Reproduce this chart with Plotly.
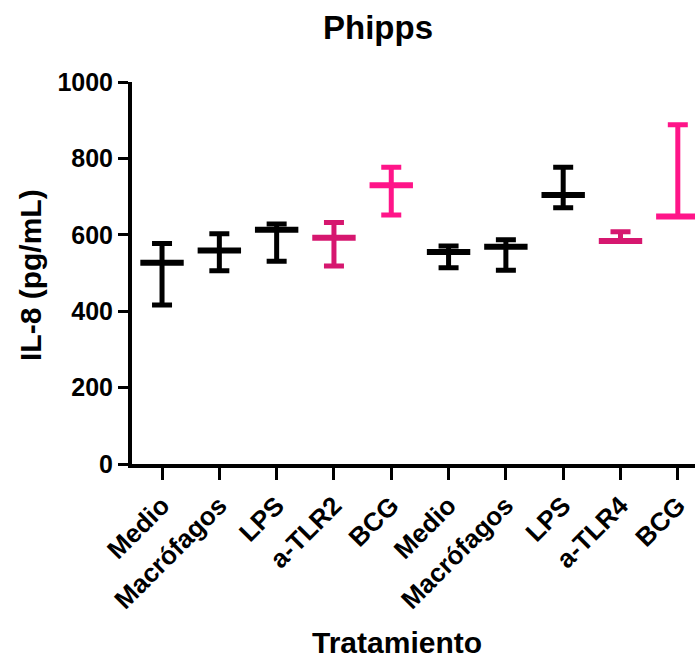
import plotly.graph_objects as go

categories = ["Medio", "Macrófagos", "LPS", "a-TLR2", "BCG",
              "Medio", "Macrófagos", "LPS", "a-TLR4", "BCG"]
means = [527, 559, 613, 592, 730, 555, 569, 704, 584, 648]
upper = [577, 603, 628, 632, 777, 571, 587, 777, 608, 888]
lower = [416, 506, 531, 518, 652, 514, 507, 671, 584, 648]
colors = ["#000000", "#000000", "#000000", "#D6176F", "#FF1589",
          "#000000", "#000000", "#000000", "#D6176F", "#FF1589"]
y_ticks = [0, 200, 400, 600, 800, 1000]

FONT = "Liberation Sans, Arial, sans-serif"

# plot area in pixels: x 132..695, y 82..464
PL, PR, PT, PB = 132, 695, 82, 464
PW, PH = PR - PL, PB - PT


def px_x(x):
    return (x - PL) / PW


def px_y(y):
    return (PB - y) / PH


fig = go.Figure()
for i, cat in enumerate(categories):
    fig.add_trace(go.Scatter(
        x=[i], y=[means[i]], mode="markers",
        marker=dict(symbol="line-ew", size=31,
                    line=dict(width=6, color=colors[i]), color=colors[i]),
        error_y=dict(type="data", symmetric=False,
                     array=[upper[i] - means[i]],
                     arrayminus=[means[i] - lower[i]],
                     color=colors[i], thickness=5, width=10),
        showlegend=False, cliponaxis=False, name=cat,
    ))

fig.update_layout(
    width=695, height=663,
    margin=dict(l=PL, r=695 - PR, t=PT, b=663 - PB),
    paper_bgcolor="white", plot_bgcolor="white",
    font=dict(family=FONT, color="black", weight="bold"),
    title=dict(text="Phipps", x=px_x(378), xanchor="center",
               y=1 - 27 / 663, yanchor="middle", xref="paper", yref="container",
               font=dict(size=33, family=FONT, weight="bold", color="black")),
    xaxis=dict(range=[-0.524, 9.30], tickmode="array",
               tickvals=list(range(len(categories))), ticktext=categories,
               tickangle=-45, showline=True, linewidth=4, linecolor="black",
               ticks="outside", ticklen=12, tickwidth=3, tickcolor="black",
               showgrid=False, zeroline=False,
               tickfont=dict(size=26, family=FONT, weight="bold")),
    yaxis=dict(range=[0, 1000], tickmode="array", tickvals=y_ticks,
               showline=True, linewidth=4, linecolor="black",
               ticks="outside", ticklen=10, tickwidth=3, tickcolor="black",
               showgrid=False, zeroline=False,
               tickfont=dict(size=25, family=FONT, weight="bold")),
    annotations=[
        dict(text="Tratamiento", x=px_x(397), y=px_y(642),
             xref="paper", yref="paper", xanchor="center", yanchor="middle",
             showarrow=False, font=dict(size=30, family=FONT, weight="bold")),
        dict(text="IL-8 (pg/mL)", x=px_x(30), y=px_y(275),
             xref="paper", yref="paper", xanchor="center", yanchor="middle",
             textangle=-90, showarrow=False,
             font=dict(size=30, family=FONT, weight="bold")),
    ],
)

fig.write_html("out.html")
